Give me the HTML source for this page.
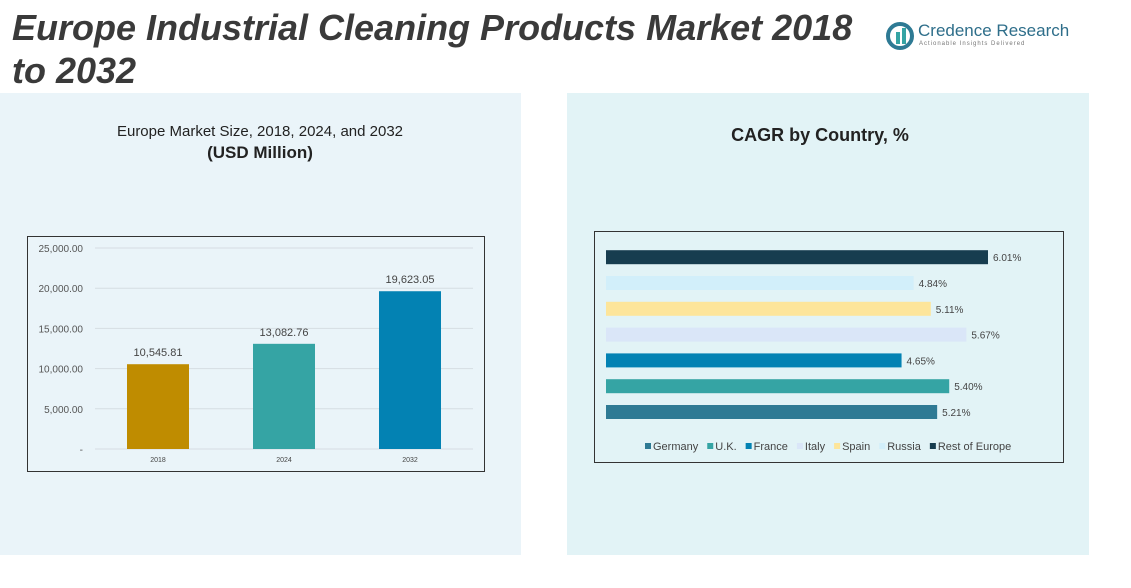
<!DOCTYPE html>
<html><head><meta charset="utf-8"><style>
body{margin:0;width:1131px;height:588px;background:#fff;position:relative;overflow:hidden;font-family:"Liberation Sans",sans-serif}
.abs{position:absolute}
</style></head><body>
<div class="abs" style="left:0;top:93px;width:521px;height:462px;background:#eaf4f9"></div>
<div class="abs" style="left:567px;top:93px;width:522px;height:462px;background:#e2f3f6"></div>
<div class="abs" style="left:12px;top:6px;width:870px;font-size:36px;line-height:43px;font-weight:bold;font-style:italic;color:#3a3a3a">Europe Industrial Cleaning Products Market 2018 to 2032</div>
<div class="abs" style="left:886px;top:20px;width:190px;height:32px;white-space:nowrap">
<svg width="30" height="30" style="position:absolute;left:0;top:2px"><circle cx="14" cy="14" r="12" fill="none" stroke="#2e7a94" stroke-width="4"/><rect x="10" y="10" width="4" height="12" fill="#35a4a4"/><rect x="16" y="6" width="4" height="16" fill="#35a4a4"/></svg>
<div style="position:absolute;left:32px;top:1px;font-size:17px;color:#2e6e8a;white-space:nowrap">Credence Research</div>
<div style="position:absolute;left:33px;top:21px;font-size:6px;color:#777;letter-spacing:1px;white-space:nowrap">Actionable Insights Delivered</div></div>
<div class="abs" style="left:60px;top:123px;width:400px;text-align:center;font-size:15px;color:#222">Europe Market Size, 2018, 2024, and 2032<br><b style="font-size:17px;line-height:26px">(USD Million)</b></div>
<div class="abs" style="left:620px;top:125px;width:400px;text-align:center;font-size:18px;font-weight:bold;color:#222">CAGR by Country, %</div>
<svg class="abs" style="left:0;top:0" width="1131" height="588" id="svg">
<rect x="27.5" y="236.5" width="457" height="235" fill="none" stroke="#333"/>
<rect x="594.5" y="231.5" width="469" height="231" fill="none" stroke="#333"/>
<g id="g1"></g><g id="g2"></g>
</svg>
<script>
const years=["2018","2024","2032"];
const sizes=[10545.81,13082.76,19623.05];
const sizeLabels=["10,545.81","13,082.76","19,623.05"];
const yTicks=[0,5000,10000,15000,20000,25000];
const yTickLabels=["-","5,000.00","10,000.00","15,000.00","20,000.00","25,000.00"];
const barColors=["#bf8c00","#35a4a4","#0382b3"];
const countries=["Germany","U.K.","France","Italy","Spain","Russia","Rest of Europe"];
const cagr=[5.21,5.40,4.65,5.67,5.11,4.84,6.01];
const cColors=["#2e7a94","#35a4a4","#0382b3","#dae6f8","#fde59a","#d2effa","#173d4f"];
const NS="http://www.w3.org/2000/svg";
function mk(t,a,p){const e=document.createElementNS(NS,t);for(const k in a)e.setAttribute(k,a[k]);p.appendChild(e);return e;}
const g1=document.getElementById('g1'),g2=document.getElementById('g2');
const y=v=>449-v*(201/25000);
const x=i=>158+i*126;
yTicks.forEach((t,i)=>{
 const l=mk('line',{x1:95,x2:473,y1:y(t),y2:y(t),stroke:'#d5dde2'},g1);
 
 
 const tx=mk('text',{x:83,y:y(t)+4,'text-anchor':'end','font-size':10,fill:'#555'},g1);
 tx.textContent=yTickLabels[i];
 
 
});
years.forEach((yr,i)=>{
 const r=mk('rect',{x:x(i)-31,y:y(sizes[i]),width:62,height:449-y(sizes[i]),fill:barColors[i]},g1);
 
 
 const v=mk('text',{x:x(i),y:y(sizes[i])-8,'text-anchor':'middle','font-size':11,fill:'#444'},g1);
 v.textContent=sizeLabels[i];
 
 
 const c=mk('text',{x:x(i),y:462,'text-anchor':'middle','font-size':7,fill:'#444'},g1);
 c.textContent=yr;
 
 
});
const cx=v=>606+v*63.56;
const cy=i=>412-i*25.8;
countries.forEach((c,i)=>{
 const r=mk('rect',{x:606,y:cy(i)-7,width:cx(cagr[i])-606,height:14,fill:cColors[i]},g2);
 
 
 const t=mk('text',{x:cx(cagr[i])+5,y:cy(i)+4,'font-size':10,fill:'#444'},g2);
 t.textContent=cagr[i].toFixed(2)+'%';
 
 
});
let lx=645;
countries.forEach((c,i)=>{
 const s=mk('rect',{x:lx,y:443,width:6,height:6,fill:cColors[i]},g2);
 
 
 const t=mk('text',{x:lx+8,y:450,'font-size':11,fill:'#444'},g2);
 t.textContent=c;
 
 
 lx+=8+t.getComputedTextLength()+9;
});
</script>
</body></html>
